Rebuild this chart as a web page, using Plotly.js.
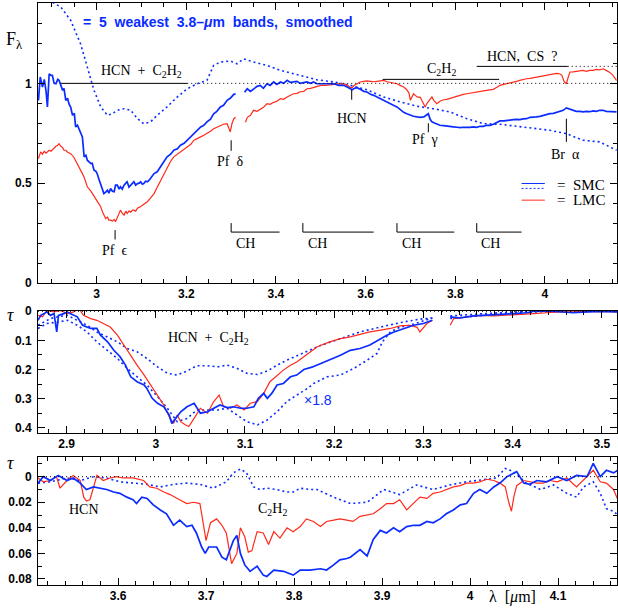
<!DOCTYPE html>
<html><head><meta charset="utf-8">
<script src="https://cdn.plot.ly/plotly-3.0.1.min.js"></script>
<style>html,body{margin:0;padding:0;background:#fff}#chart{width:618px;height:613px}</style>
</head><body><div id="chart"></div>
<script>
// ---------- DATA (wavelength in micron, value) ----------
// Panel 1: normalised flux F_lambda
const smcFlux = [[2.870,0.915],[2.874,1.032],[2.879,0.982],[2.883,1.02],[2.887,0.96],[2.890,0.882],[2.894,1.048],[2.898,1.04],[2.901,1.04],[2.905,1.00],[2.909,0.998],[2.913,1.02],[2.916,1.015],[2.920,0.985],[2.924,0.965],[2.927,0.975],[2.931,0.915],[2.935,0.925],[2.938,0.898],[2.942,0.88],[2.946,0.84],[2.950,0.85],[2.953,0.782],[2.957,0.79],[2.961,0.765],[2.964,0.75],[2.968,0.732],[2.972,0.632],[2.976,0.64],[2.979,0.615],[2.983,0.605],[2.987,0.598],[2.990,0.6],[2.994,0.565],[2.998,0.56],[3.001,0.548],[3.005,0.52],[3.009,0.49],[3.012,0.47],[3.016,0.448],[3.020,0.455],[3.024,0.465],[3.027,0.45],[3.031,0.473],[3.035,0.46],[3.039,0.457],[3.042,0.49],[3.046,0.49],[3.050,0.47],[3.053,0.482],[3.057,0.47],[3.061,0.49],[3.065,0.5],[3.068,0.507],[3.072,0.48],[3.076,0.49],[3.080,0.5],[3.083,0.507],[3.087,0.49],[3.091,0.498],[3.095,0.5],[3.098,0.507],[3.102,0.495],[3.105,0.498],[3.109,0.51],[3.113,0.507],[3.117,0.515],[3.120,0.523],[3.128,0.548],[3.135,0.557],[3.143,0.582],[3.150,0.605],[3.157,0.632],[3.165,0.645],[3.172,0.665],[3.180,0.672],[3.187,0.69],[3.195,0.70],[3.202,0.715],[3.210,0.73],[3.217,0.748],[3.224,0.76],[3.232,0.782],[3.239,0.79],[3.246,0.807],[3.254,0.82],[3.261,0.848],[3.268,0.86],[3.276,0.882],[3.283,0.89],[3.291,0.915],[3.298,0.925],[3.306,0.945],[3.310,0.948],[null,null],
[3.330,0.955],[3.336,0.973],[3.343,0.96],[3.350,0.973],[3.358,0.985],[3.365,0.99],[3.372,0.975],[3.380,0.998],[3.387,0.99],[3.395,1.007],[3.402,0.995],[3.410,1.007],[3.417,1.0],[3.425,1.015],[3.432,1.005],[3.439,1.007],[3.447,1.01],[3.454,1.0],[3.462,1.005],[3.469,1.007],[3.477,1.0],[3.484,1.007],[3.491,0.998],[3.500,0.998],[3.510,0.995],[3.520,0.997],[3.529,0.998],[3.540,0.99],[3.551,0.99],[3.560,0.98],[3.566,0.975],[3.570,0.968],[3.575,0.975],[3.581,0.978],[3.588,0.97],[3.596,0.96],[3.603,0.957],[3.611,0.945],[3.618,0.94],[3.625,0.932],[3.633,0.92],[3.640,0.915],[3.648,0.907],[3.655,0.895],[3.662,0.89],[3.670,0.882],[3.677,0.87],[3.685,0.855],[3.692,0.848],[3.700,0.84],[3.707,0.835],[3.715,0.832],[3.722,0.83],[3.730,0.832],[3.735,0.84],[3.740,0.848],[3.744,0.82],[3.748,0.807],[3.755,0.8],[3.766,0.79],[3.774,0.788],[3.781,0.785],[3.788,0.782],[3.796,0.782],[3.804,0.78],[3.811,0.778],[3.818,0.78],[3.826,0.778],[3.833,0.78],[3.840,0.782],[3.848,0.78],[3.855,0.785],[3.863,0.785],[3.870,0.79],[3.878,0.79],[3.885,0.795],[3.893,0.805],[3.900,0.812],[3.908,0.812],[3.915,0.815],[3.922,0.815],[3.930,0.818],[3.937,0.82],[3.944,0.818],[3.952,0.822],[3.959,0.823],[3.967,0.83],[3.974,0.83],[3.981,0.832],[3.989,0.835],[3.996,0.84],[4.004,0.845],[4.011,0.848],[4.019,0.85],[4.026,0.855],[4.033,0.86],[4.041,0.865],[4.048,0.877],[4.056,0.87],[4.063,0.865],[4.070,0.86],[4.078,0.86],[4.085,0.857],[4.093,0.86],[4.100,0.858],[4.108,0.862],[4.115,0.86],[4.122,0.865],[4.130,0.865],[4.137,0.86],[4.145,0.858],[4.152,0.86],[4.160,0.857]];

const lmcFlux = [[2.870,0.623],[2.875,0.657],[2.879,0.645],[2.883,0.66],[2.887,0.65],[2.890,0.657],[2.894,0.665],[2.898,0.66],[2.901,0.668],[2.905,0.673],[2.909,0.685],[2.913,0.69],[2.916,0.698],[2.920,0.685],[2.924,0.678],[2.927,0.665],[2.931,0.665],[2.935,0.655],[2.942,0.648],[2.949,0.63],[2.957,0.598],[2.961,0.58],[2.968,0.548],[2.972,0.53],[2.979,0.482],[2.987,0.46],[2.994,0.432],[3.001,0.41],[3.009,0.382],[3.014,0.35],[3.020,0.323],[3.024,0.33],[3.027,0.315],[3.031,0.315],[3.035,0.31],[3.039,0.318],[3.042,0.307],[3.046,0.33],[3.050,0.345],[3.053,0.365],[3.057,0.35],[3.061,0.34],[3.065,0.36],[3.068,0.348],[3.072,0.36],[3.076,0.355],[3.080,0.365],[3.083,0.365],[3.087,0.36],[3.091,0.375],[3.095,0.38],[3.098,0.382],[3.102,0.39],[3.105,0.395],[3.109,0.4],[3.113,0.407],[3.120,0.425],[3.128,0.448],[3.135,0.48],[3.143,0.515],[3.150,0.55],[3.157,0.582],[3.165,0.61],[3.172,0.632],[3.180,0.645],[3.187,0.657],[3.195,0.668],[3.202,0.682],[3.210,0.695],[3.217,0.715],[3.224,0.725],[3.232,0.732],[3.239,0.74],[3.246,0.748],[3.254,0.76],[3.261,0.773],[3.268,0.78],[3.276,0.79],[3.283,0.795],[3.291,0.798],[3.295,0.775],[3.298,0.757],[3.302,0.8],[3.306,0.823],[3.310,0.83],[null,null],
[3.332,0.805],[3.336,0.83],[3.343,0.84],[3.350,0.865],[3.358,0.86],[3.365,0.87],[3.372,0.88],[3.380,0.898],[3.387,0.895],[3.395,0.905],[3.402,0.91],[3.410,0.923],[3.417,0.92],[3.425,0.932],[3.432,0.94],[3.439,0.948],[3.447,0.95],[3.454,0.958],[3.462,0.96],[3.469,0.973],[3.477,0.975],[3.484,0.98],[3.491,0.985],[3.500,0.99],[3.510,0.99],[3.520,0.993],[3.529,0.995],[3.540,0.997],[3.551,0.998],[3.560,0.99],[3.566,0.978],[3.570,0.98],[3.575,0.99],[3.581,1.0],[3.588,1.007],[3.596,1.01],[3.603,1.012],[3.611,1.01],[3.618,1.008],[3.625,1.01],[3.633,1.012],[3.640,1.015],[3.648,1.008],[3.655,1.005],[3.662,1.0],[3.670,0.998],[3.677,0.99],[3.685,0.982],[3.692,0.968],[3.697,0.95],[3.700,0.915],[3.704,0.94],[3.707,0.948],[3.711,0.94],[3.715,0.932],[3.722,0.93],[3.728,0.9],[3.733,0.882],[3.737,0.9],[3.740,0.91],[3.744,0.925],[3.748,0.932],[3.752,0.915],[3.759,0.898],[3.766,0.91],[3.774,0.918],[3.781,0.92],[3.788,0.925],[3.796,0.932],[3.804,0.935],[3.811,0.94],[3.818,0.945],[3.826,0.948],[3.833,0.95],[3.840,0.955],[3.848,0.957],[3.855,0.96],[3.863,0.962],[3.870,0.965],[3.878,0.968],[3.885,0.97],[3.893,0.98],[3.900,0.99],[3.908,0.995],[3.915,0.998],[3.922,1.003],[3.930,1.007],[3.937,1.01],[3.944,1.015],[3.952,1.02],[3.959,1.023],[3.967,1.025],[3.974,1.028],[3.981,1.032],[3.989,1.035],[3.996,1.038],[4.004,1.04],[4.011,1.043],[4.019,1.048],[4.026,1.05],[4.033,1.048],[4.038,1.04],[4.043,1.01],[4.048,0.998],[4.052,1.03],[4.056,1.057],[4.063,1.058],[4.070,1.06],[4.078,1.062],[4.085,1.065],[4.093,1.06],[4.100,1.065],[4.108,1.065],[4.115,1.07],[4.122,1.068],[4.130,1.073],[4.137,1.065],[4.145,1.055],[4.152,1.04],[4.160,1.015]];

const smcSmoothFlux = [[2.869,1.42],[2.898,1.41],[2.920,1.382],[2.942,1.315],[2.964,1.198],[2.979,1.082],[2.994,0.965],[3.009,0.882],[3.024,0.84],[3.035,0.848],[3.046,0.865],[3.061,0.873],[3.076,0.865],[3.091,0.823],[3.105,0.798],[3.120,0.807],[3.135,0.84],[3.157,0.882],[3.180,0.932],[3.202,0.973],[3.224,0.998],[3.246,1.015],[3.261,1.09],[3.276,1.107],[3.298,1.112],[3.313,1.098],[3.328,1.123],[3.350,1.107],[3.380,1.09],[3.410,1.065],[3.439,1.048],[3.469,1.032],[3.491,1.018],[3.529,1.007],[3.566,0.99],[3.603,0.968],[3.640,0.932],[3.677,0.907],[3.715,0.885],[3.751,0.873],[3.788,0.857],[3.826,0.823],[3.863,0.798],[3.900,0.795],[3.937,0.785],[3.974,0.773],[4.011,0.765],[4.048,0.748],[4.085,0.715],[4.122,0.707],[4.160,0.665]];

// Panel 2: optical depth tau, 2.87-3.52 micron
const smcTauA = [[2.868,0.031],[2.871,0.014],[2.875,0.008],[2.878,0.002],[2.882,0.014],[2.886,0.008],[2.889,0.071],[2.891,0.014],[2.897,0.008],[2.901,0.002],[2.904,0.008],[2.912,0.019],[2.918,0.048],[2.923,0.054],[2.927,0.059],[2.934,0.059],[2.938,0.082],[2.946,0.105],[2.953,0.134],[2.960,0.156],[2.966,0.185],[2.972,0.225],[2.979,0.242],[2.987,0.253],[2.990,0.265],[2.996,0.299],[3.002,0.316],[3.009,0.328],[3.015,0.356],[3.018,0.385],[3.022,0.368],[3.028,0.345],[3.035,0.328],[3.043,0.316],[3.050,0.35],[3.058,0.345],[3.065,0.333],[3.072,0.322],[3.080,0.331],[3.087,0.328],[3.095,0.333],[3.102,0.333],[3.110,0.328],[3.115,0.299],[3.121,0.282],[3.125,0.299],[3.130,0.282],[3.136,0.253],[3.143,0.248],[3.151,0.225],[3.158,0.219],[3.166,0.2],[3.175,0.192],[3.184,0.18],[3.195,0.168],[3.207,0.151],[3.218,0.134],[3.229,0.128],[3.240,0.116],[3.252,0.094],[3.259,0.082],[3.267,0.071],[3.278,0.059],[3.289,0.048],[3.300,0.042],[3.310,0.031],[null,null],[3.330,0.019],[3.341,0.023],[3.356,0.016],[3.371,0.014],[3.386,0.011],[3.401,0.008],[3.416,0.005],[3.424,0.0],[3.439,-0.001],[3.453,0.002],[3.468,0.005],[3.484,0.002],[3.498,0.0],[3.517,0.002]];

const lmcTauA = [[2.868,0.014],[2.873,0.019],[2.878,-0.003],[2.886,0.002],[2.893,-0.003],[2.901,0.008],[2.908,0.002],[2.914,-0.009],[2.919,0.014],[2.927,0.025],[2.934,0.031],[2.942,0.042],[2.949,0.054],[2.957,0.082],[2.964,0.116],[2.972,0.151],[2.979,0.185],[2.987,0.219],[2.994,0.253],[3.002,0.288],[3.009,0.322],[3.016,0.368],[3.020,0.385],[3.024,0.356],[3.028,0.379],[3.033,0.39],[3.037,0.396],[3.043,0.368],[3.050,0.333],[3.058,0.35],[3.065,0.31],[3.071,0.288],[3.076,0.328],[3.084,0.333],[3.091,0.322],[3.099,0.339],[3.106,0.316],[3.114,0.31],[3.121,0.282],[3.128,0.242],[3.136,0.219],[3.143,0.202],[3.151,0.185],[3.158,0.174],[3.166,0.156],[3.173,0.139],[3.181,0.122],[3.195,0.105],[3.207,0.094],[3.218,0.088],[3.229,0.08],[3.240,0.071],[3.252,0.065],[3.263,0.059],[3.274,0.05],[3.285,0.048],[3.293,0.055],[3.296,0.071],[3.304,0.042],[3.310,0.031],[null,null],[3.330,0.048],[3.334,0.025],[3.349,0.019],[3.364,0.014],[3.379,0.016],[3.394,0.014],[3.409,0.011],[3.424,0.008],[3.439,0.005],[3.453,0.002],[3.468,0.002],[3.484,0.0],[3.498,0.0],[3.517,0.002]];

const smcSmoothTauA = [[2.868,0.048],[2.875,0.037],[2.882,0.025],[2.890,0.019],[2.901,0.014],[2.912,0.031],[2.923,0.048],[2.934,0.071],[2.946,0.088],[2.957,0.105],[2.968,0.128],[2.979,0.139],[2.990,0.162],[3.002,0.191],[3.013,0.213],[3.024,0.219],[3.035,0.205],[3.046,0.187],[3.058,0.187],[3.069,0.191],[3.080,0.185],[3.091,0.196],[3.102,0.213],[3.114,0.217],[3.125,0.205],[3.136,0.185],[3.147,0.168],[3.158,0.153],[3.170,0.139],[3.184,0.118],[3.207,0.094],[3.229,0.071],[3.252,0.054],[3.274,0.039],[3.296,0.027],[3.310,0.023],[null,null],[3.330,0.016],[3.349,0.011],[3.368,0.008],[3.386,0.005],[3.405,0.002],[3.424,0.002],[3.442,0.0],[3.461,0.0],[3.480,0.0],[3.517,0.0]];

const smcSmoothTauScaled = [[2.868,0.059],[2.878,0.042],[2.890,0.037],[2.901,0.031],[2.912,0.048],[2.923,0.071],[2.934,0.105],[2.946,0.134],[2.957,0.162],[2.968,0.196],[2.979,0.225],[2.990,0.253],[3.002,0.293],[3.013,0.333],[3.024,0.379],[3.035,0.368],[3.046,0.339],[3.058,0.339],[3.069,0.339],[3.080,0.333],[3.091,0.356],[3.102,0.379],[3.114,0.39],[3.125,0.373],[3.136,0.345],[3.147,0.31],[3.158,0.288],[3.170,0.265],[3.177,0.248],[3.192,0.225],[3.207,0.219],[3.222,0.196],[3.237,0.168],[3.248,0.145],[3.254,0.105],[3.263,0.071],[3.274,0.054],[3.285,0.048],[3.296,0.037],[3.310,0.023],[null,null],[3.330,0.025],[3.349,0.019],[3.368,0.014],[3.386,0.008],[3.405,0.005],[3.424,0.0],[3.442,-0.003],[3.461,-0.002],[3.480,-0.001],[3.517,0.0]];

// Panel 3: optical depth tau, 3.51-4.17 micron
const smcTauB = [[3.509,0.005],[3.515,0.0],[3.523,0.003],[3.532,-0.001],[3.542,0.003],[3.549,0.001],[3.557,0.005],[3.564,0.01],[3.572,0.008],[3.580,0.009],[3.587,0.01],[3.595,0.012],[3.602,0.013],[3.610,0.016],[3.617,0.018],[3.621,0.021],[3.627,0.016],[3.633,0.017],[3.640,0.022],[3.648,0.026],[3.655,0.029],[3.663,0.038],[3.670,0.034],[3.678,0.039],[3.684,0.038],[3.689,0.044],[3.695,0.055],[3.699,0.06],[3.703,0.055],[3.712,0.055],[3.718,0.063],[3.723,0.065],[3.731,0.05],[3.735,0.046],[3.739,0.06],[3.744,0.069],[3.750,0.074],[3.758,0.07],[3.765,0.077],[3.769,0.078],[3.777,0.073],[3.788,0.074],[3.799,0.077],[3.807,0.073],[3.818,0.073],[3.830,0.072],[3.837,0.073],[3.845,0.069],[3.852,0.065],[3.860,0.064],[3.864,0.063],[3.875,0.057],[3.883,0.062],[3.890,0.049],[3.898,0.042],[3.905,0.044],[3.913,0.04],[3.920,0.043],[3.928,0.039],[3.936,0.038],[3.943,0.038],[3.951,0.035],[3.958,0.036],[3.966,0.033],[3.973,0.029],[3.981,0.026],[3.989,0.022],[3.996,0.021],[4.004,0.013],[4.011,0.010],[4.019,0.013],[4.027,0.008],[4.034,0.005],[4.042,0.0],[4.053,-0.004],[4.061,0.005],[4.068,0.006],[4.076,0.003],[4.087,0.004],[4.099,0.0],[4.110,0.003],[4.121,-0.001],[4.133,0.0],[4.140,-0.0104],[4.148,0.0],[4.155,-0.005],[4.163,-0.003],[4.168,-0.005]];

const lmcTauB = [[3.509,0.001],[3.515,0.004],[3.523,0.003],[3.530,0.0],[3.534,0.009],[3.542,0.003],[3.549,-0.001],[3.557,0.003],[3.561,0.016],[3.564,0.019],[3.568,0.018],[3.572,0.008],[3.576,-0.001],[3.583,0.003],[3.591,0.001],[3.598,0.0],[3.606,0.001],[3.617,0.001],[3.629,0.003],[3.636,0.008],[3.644,0.009],[3.652,0.012],[3.659,0.014],[3.670,0.018],[3.678,0.021],[3.686,0.02],[3.693,0.021],[3.695,0.029],[3.700,0.05],[3.705,0.036],[3.712,0.033],[3.718,0.038],[3.723,0.044],[3.729,0.068],[3.735,0.06],[3.739,0.04],[3.744,0.047],[3.748,0.059],[3.752,0.058],[3.758,0.043],[3.765,0.044],[3.771,0.053],[3.777,0.043],[3.784,0.048],[3.792,0.04],[3.799,0.043],[3.807,0.039],[3.814,0.033],[3.822,0.035],[3.830,0.039],[3.837,0.035],[3.845,0.034],[3.852,0.033],[3.860,0.034],[3.867,0.035],[3.875,0.031],[3.883,0.03],[3.890,0.029],[3.898,0.025],[3.905,0.021],[3.913,0.021],[3.920,0.018],[3.928,0.026],[3.936,0.021],[3.943,0.016],[3.951,0.017],[3.958,0.013],[3.966,0.012],[3.973,0.01],[3.981,0.008],[3.989,0.007],[3.996,0.005],[4.004,0.005],[4.011,0.004],[4.019,0.002],[4.027,0.003],[4.034,0.005],[4.040,0.008],[4.044,0.02],[4.047,0.027],[4.050,0.015],[4.053,0.007],[4.061,0.003],[4.068,0.004],[4.076,0.005],[4.083,0.005],[4.091,0.003],[4.099,0.004],[4.110,0.001],[4.121,0.008],[4.133,0.0],[4.140,-0.005],[4.148,0.004],[4.155,0.005],[4.163,0.01],[4.168,0.018]];

const smcSmoothTauB = [[3.509,0.005],[3.523,0.004],[3.542,0.001],[3.557,0.003],[3.572,0.0],[3.587,0.001],[3.602,0.004],[3.617,0.005],[3.633,0.006],[3.648,0.008],[3.663,0.006],[3.678,0.005],[3.693,0.006],[3.708,0.009],[3.723,0.004],[3.731,-0.003],[3.739,-0.006],[3.746,-0.003],[3.754,0.008],[3.761,0.010],[3.769,0.009],[3.780,0.010],[3.792,0.012],[3.799,0.012],[3.807,0.009],[3.818,0.010],[3.826,0.010],[3.845,0.016],[3.864,0.021],[3.883,0.02],[3.902,0.010],[3.920,0.014],[3.939,0.0065],[3.958,0.010],[3.977,0.0065],[3.996,0.004],[4.015,0.002],[4.030,0.001],[4.040,-0.0065],[4.049,-0.004],[4.064,0.005],[4.080,0.010],[4.095,0.0065],[4.110,0.013],[4.121,0.016],[4.129,0.008],[4.140,0.004],[4.148,0.013],[4.155,0.025],[4.163,0.027],[4.168,0.03]];

// ---------- STYLE ----------
const BLUE = '#0a2cff', RED = '#ff2a1a';
const xs = a => a.map(p => p[0]), ys = a => a.map(p => p[1]);
function tr(d, xa, ya, color, width, dash) {
  return {type:'scatter', mode:'lines', x: xs(d), y: ys(d), xaxis: xa, yaxis: ya,
          line:{color: color, width: width, dash: dash || 'solid'}, connectgaps:false,
          hoverinfo:'skip', showlegend:false};
}
const DOT = '2px,3px';
const data = [
  tr(smcSmoothFlux,'x','y',BLUE,1.6,DOT),
  tr(lmcFlux,'x','y',RED,1.2),
  tr(smcFlux,'x','y',BLUE,1.7),
  tr(smcSmoothTauA,'x2','y2',BLUE,1.6,DOT),
  tr(smcSmoothTauScaled,'x2','y2',BLUE,1.6,DOT),
  tr(lmcTauA,'x2','y2',RED,1.2),
  tr(smcTauA,'x2','y2',BLUE,1.7),
  tr(smcSmoothTauB,'x3','y3',BLUE,1.6,DOT),
  tr(lmcTauB,'x3','y3',RED,1.2),
  tr(smcTauB,'x3','y3',BLUE,1.7)
];

const TICKFONT = {family:'Liberation Sans, Arial, sans-serif', size:12, color:'#000', weight:'bold'};
function axis(o) {
  return Object.assign({showline:true, linecolor:'#000', linewidth:1, mirror:'allticks',
    ticks:'inside', ticklen:7, tickwidth:1, tickcolor:'#000', showgrid:false, zeroline:false,
    tickfont:TICKFONT, fixedrange:true}, o);
}
const H = 613;
const dom = (top, bot) => [(H - bot) / H, (H - top) / H];

const layout = {
  width:618, height:613, margin:{l:38, r:1, t:0, b:0},
  paper_bgcolor:'#fff', plot_bgcolor:'#fff', showlegend:false,
  xaxis: axis({domain:[0,1], anchor:'y', range:[2.869,4.161], dtick:0.2, tick0:3,
    minor:{dtick:0.05, ticklen:4, ticks:'inside', tickcolor:'#000'}}),
  yaxis: axis({domain:dom(2.5,283), anchor:'x', range:[0,1.405], dtick:0.5, ticklabelstandoff:3,
    minor:{dtick:0.1, ticklen:4, ticks:'inside', tickcolor:'#000'}}),
  xaxis2: axis({domain:[0,1], anchor:'y2', range:[2.868,3.517], dtick:0.1, tick0:2.9,
    minor:{dtick:0.02, ticklen:4, ticks:'inside', tickcolor:'#000'}}),
  yaxis2: axis({domain:dom(310.7,432.7), anchor:'x2', range:[0.417,-0.002], dtick:0.1, ticklabelstandoff:3,
    minor:{dtick:0.05, ticklen:4, ticks:'inside', tickcolor:'#000'}}),
  xaxis3: axis({domain:[0,1], anchor:'y3', range:[3.509,4.167], dtick:0.1, tick0:3.6,
    minor:{dtick:0.02, ticklen:4, ticks:'inside', tickcolor:'#000'}}),
  yaxis3: axis({domain:dom(457,585), anchor:'x3', range:[0.0847,-0.0154], dtick:0.02, ticklabelstandoff:3,
    minor:{dtick:0.01, ticklen:4, ticks:'inside', tickcolor:'#000'}}),
  shapes: [], annotations: []
};

const S = layout.shapes, A = layout.annotations;
function seg(xr, yr, x0, y0, x1, y1, dash, color) {
  S.push({type:'line', xref:xr, yref:yr, x0:x0, y0:y0, x1:x1, y1:y1,
          line:{color: color || '#000', width:1, dash: dash || 'solid'}});
}
const SERIF = 'Liberation Serif, Times New Roman, serif';
function txt(xr, yr, x, y, s, o) {
  A.push(Object.assign({xref:xr, yref:yr, x:x, y:y, text:s, showarrow:false,
    xanchor:'center', yanchor:'middle', font:{family:SERIF, size:14, color:'#000'}}, o || {}));
}

// Panel 1 reference lines and band bars
seg('x','y',2.92,1.0,3.202,1.0);
seg('x','y',3.202,1.0,4.161,1.0,'1px,3px');
seg('x','y',3.638,1.02,3.898,1.02);
seg('x','y',3.848,1.085,4.051,1.085);
seg('x','y',4.051,1.085,4.161,1.085,'1px,3px');
txt('x','y',3.101,1.057,'HCN  +  C<sub>2</sub>H<sub>2</sub>');
txt('x','y',3.770,1.07,'C<sub>2</sub>H<sub>2</sub>');
txt('x','y',3.948,1.135,'HCN,  CS  ?');
// line markers
seg('x','y',3.041,0.265,3.041,0.218); txt('x','y',3.04,0.165,'Pf  ϵ');
seg('x','y',3.300,0.715,3.300,0.662); txt('x','y',3.298,0.607,'Pf  δ');
seg('x','y',3.569,0.968,3.569,0.918); txt('x','y',3.569,0.823,'HCN');
seg('x','y',3.740,0.800,3.740,0.755); txt('x','y',3.733,0.72,'Pf  γ');
seg('x','y',4.048,0.823,4.048,0.707); txt('x','y',4.047,0.645,'Br  α');
// CH brackets
[[3.300,3.408],[3.460,3.618],[3.670,3.798],[3.848,3.948]].forEach(b => {
  seg('x','y',b[0],0.30,b[0],0.255);
  seg('x','y',b[0],0.255,b[1],0.255);
  txt('x','y',b[0]+0.006,0.20,'CH',{xanchor:'left'});
});
// legend
seg('x','y',3.948,0.4985,4.0,0.4985,'solid',BLUE);
seg('x','y',3.948,0.474,4.0,0.474,'2px,2px',BLUE);
seg('x','y',3.948,0.415,4.0,0.415,'solid',RED);
txt('x','y',4.022,0.49,'=  SMC',{xanchor:'left', font:{family:SERIF, size:15, color:'#000'}});
txt('x','y',4.022,0.415,'=  LMC',{xanchor:'left', font:{family:SERIF, size:15, color:'#000'}});
txt('x','y',2.964,1.305,'=  5  weakest  3.8–<i>μ</i>m  bands,  smoothed',
    {xanchor:'left', font:{family:'Liberation Sans, Arial, sans-serif', size:14, color:BLUE, weight:'bold'}});
// axis labels
txt('paper','paper',-0.041,dom(0,40)[0],'F<sub>λ</sub>',{font:{family:SERIF, size:18, color:'#000'}});
txt('paper','paper',-0.047,dom(0,315)[0],'<i>τ</i>',{font:{family:SERIF, size:18, color:'#000'}});
txt('paper','paper',-0.047,dom(0,463)[0],'<i>τ</i>',{font:{family:SERIF, size:18, color:'#000'}});
txt('x3','paper',4.048,dom(0,597)[0],'λ  [<i>μ</i>m]',{font:{family:SERIF, size:16, color:'#000'}});

// Panel 2
seg('x2','y2',2.868,0,3.517,0,'1px,3px');
txt('x2','y2',3.059,0.0935,'HCN  +  C<sub>2</sub>H<sub>2</sub>');
txt('x2','y2',3.164,0.305,'×1.8',{xanchor:'left', font:{family:'Liberation Sans, Arial, sans-serif', size:14, color:BLUE}});

// Panel 3
seg('x3','y3',3.509,0,4.167,0,'1px,3px');
txt('x3','y3',3.561,0.026,'HCN');
txt('x3','y3',3.775,0.0255,'C<sub>2</sub>H<sub>2</sub>');

Plotly.newPlot('chart', data, layout, {staticPlot:true, displayModeBar:false});
</script></body></html>
